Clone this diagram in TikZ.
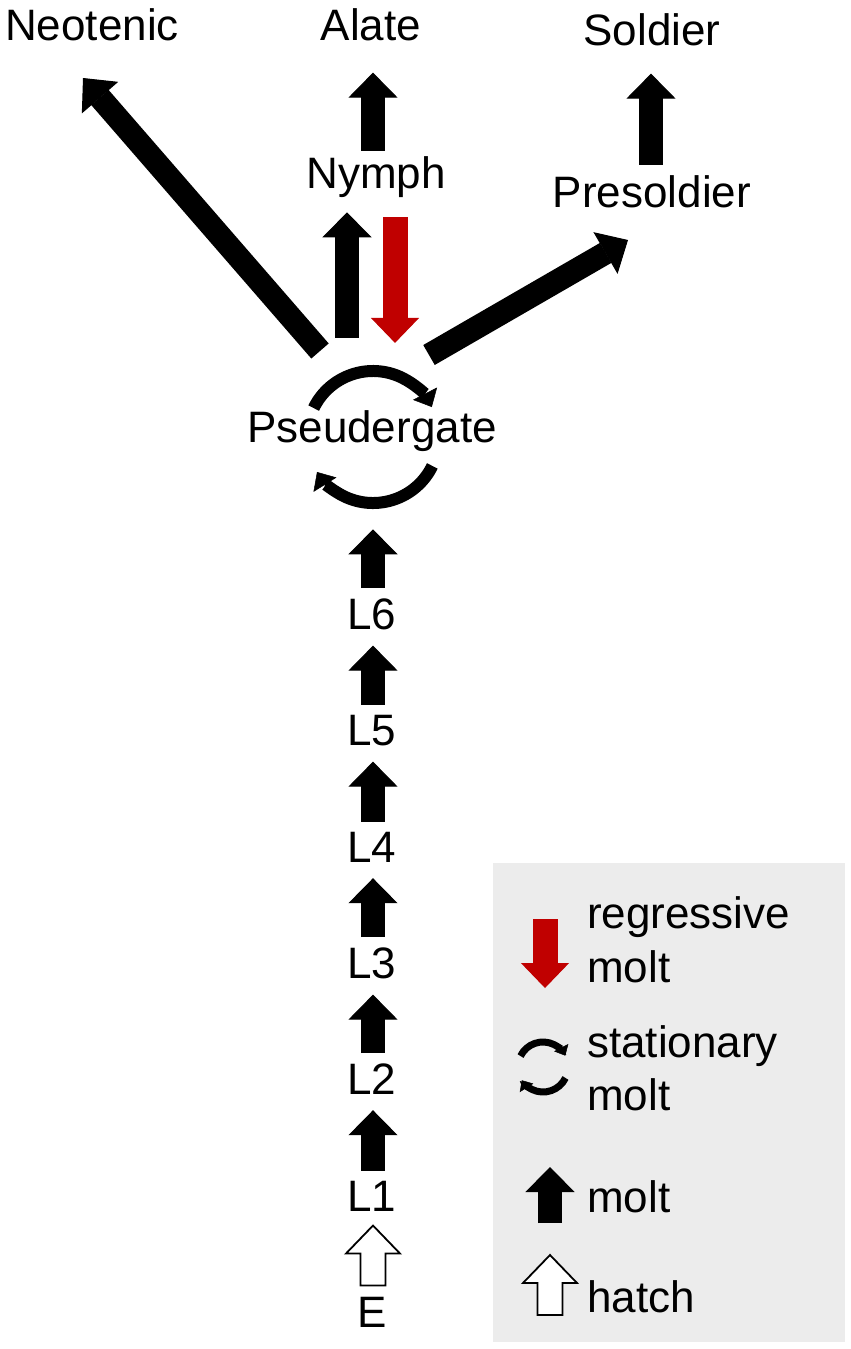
\documentclass[tikz,border=0pt]{standalone}
\usepackage{fontspec}
\setmainfont{Liberation Sans}
\usetikzlibrary{arrows.meta}
\usetikzlibrary{calc}
\definecolor{regress}{RGB}{192,0,0}
\definecolor{legendbg}{RGB}{236,236,236}

\tikzset{
  stage/.style={anchor=base, inner sep=0pt, font=\fontsize{44}{53}\selectfont},
  legtext/.style={anchor=base west, inner sep=0pt, font=\fontsize{44}{53}\selectfont},
  molt/.style={line width=24pt, -{Triangle[length=25pt,width=49pt,line width=1pt]}},
  regmolt/.style={draw=regress, line width=25pt, -{Triangle[length=25pt,width=48pt,line width=1pt]}},
  diag/.style={line width=23pt, -{Triangle[length=26pt,width=48pt,line width=1pt]}},
  pics/hatcharrow/.style={code={
    \draw[line width=1.8pt, fill=white, line join=miter]
      (-12.5,0) -- (-12.5,-32) -- (-27,-32) -- (0,-60) -- (27,-32) -- (12.5,-32) -- (12.5,0) -- cycle;
  }},
  pics/stationary/.style n args={4}{code={
    \draw[line width=#2, -{Triangle[length=#3,width=#4,line width=0.5pt]}]
      (-154:#1) arc[start angle=-154, end angle=-27, radius=#1];
    \draw[line width=#2, -{Triangle[length=#3,width=#4,line width=0.5pt]}]
      (26:#1) arc[start angle=26, end angle=148, radius=#1];
  }},
}

\begin{document}
\begin{tikzpicture}[x=1pt,y=-1pt]
	\useasboundingbox (0,0) rectangle (851,1349);

	%top row
	\node[stage] (neotenic) at (92,40) {Neotenic};
	\node[stage] (alate) at (371,40) {Alate};
	\node[stage] (soldier) at (652,45) {Soldier};
	\node[stage] (nymph) at (376,188) {Nymph};
	\node[stage] (presoldier) at (652,207) {Presoldier};
	\node[stage] (pseud) at (372,442) {Pseudergate};

	%larval stages
	\node[stage] (nL6) at (372,629) {L6};
	\node[stage] (nL5) at (372,745) {L5};
	\node[stage] (nL4) at (372,862) {L4};
	\node[stage] (nL3) at (372,978) {L3};
	\node[stage] (nL2) at (372,1094) {L2};
	\node[stage] (nL1) at (372,1211) {L1};
	\node[stage] (nE) at (372,1327) {E};

	%molts between stages
	\foreach \a/\b in {nL1/nL2,nL2/nL3,nL3/nL4,nL4/nL5,nL5/nL6}
		\draw[molt, shorten <=10pt, shorten >=16pt] ($(\a.north)+(1,0)$) -- ($(\b.south)+(1,0)$);
	\draw[molt, shorten <=10pt, shorten >=78pt] ($(nL6.north)+(1,0)$) -- ($(pseud.south)+(1,0)$);
	\pic at ($(nE.north)+(1,-11)$) {hatcharrow};

	%stationary molt
	\pic at (373,437) {stationary={66}{12pt}{15pt}{27pt}};

	%pseudergate to nymph and back
	\draw[molt, shorten <=72pt, shorten >=15pt] ($(pseud.north)+(-25,0)$) -- ($(nymph.south)+(-29,0)$);
	\draw[regmolt, shorten <=20pt, shorten >=67pt] ($(nymph.south)+(19,0)$) -- ($(pseud.north)+(23,0)$);
	\draw[molt, shorten <=5pt, shorten >=32pt] ($(nymph.north)+(-3,0)$) -- ($(alate.south)+(2,0)$);
	\draw[molt, shorten <=10pt, shorten >=28pt] ($(presoldier.north)+(-1,0)$) -- ($(soldier.south)+(-1,0)$);

	%long arrows
	\coordinate (neoTail) at (320,351);
	\coordinate (neoTip) at (83,78);
	\coordinate (psTail) at (429,355);
	\coordinate (psTip) at (628,240);
	\draw[diag] (neoTail) -- (neoTip);
	\draw[diag] (psTail) -- (psTip);

	%legend
	\fill[legendbg] (493,863) rectangle (845,1342);
	\draw[regmolt] (545,919) -- (545,988);
	\node[legtext] (legRegA) at (587,928) {regressive};
	\node[legtext] (legRegB) at (587,982) {molt};
	\pic at (543,1067) {stationary={25}{7pt}{9pt}{16pt}};
	\node[legtext] (legStatA) at (587,1057) {stationary};
	\node[legtext] (legStatB) at (587,1110) {molt};
	\draw[molt] (550,1223) -- (550,1167);
	\node[legtext] (legMolt) at (587,1212) {molt};
	\pic at (550,1315) {hatcharrow};
	\node[legtext] (legHatch) at (587,1312) {hatch};
\end{tikzpicture}
\end{document}
